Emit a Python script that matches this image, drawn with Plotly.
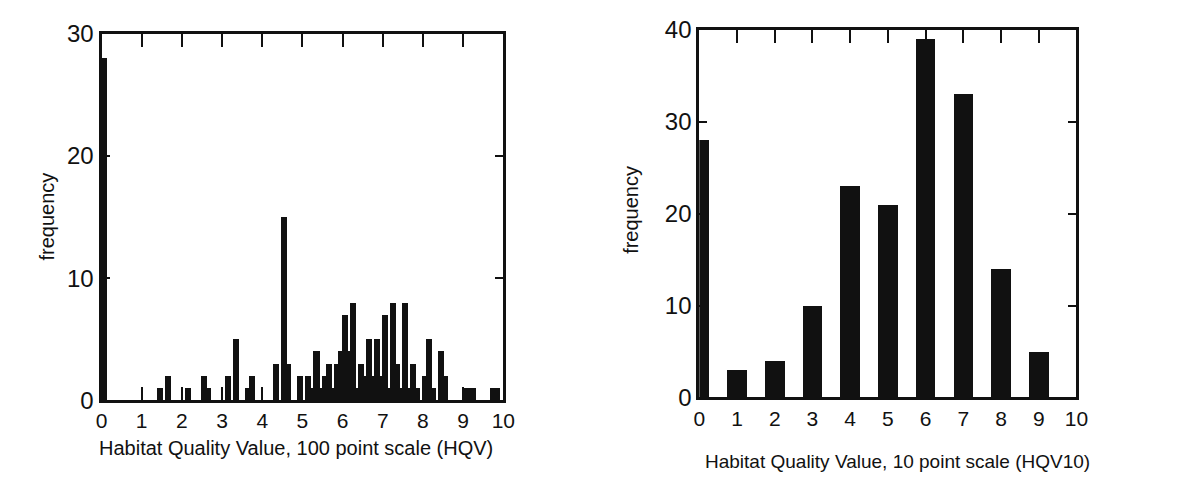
import plotly.graph_objects as go

# Left panel: 100 point scale (shown as HQV/10), one bar per 0.1 step
hqv100_values = [0.0, 1.4, 1.6, 2.1, 2.5, 2.6, 3.1, 3.3, 3.6, 3.7, 4.3, 4.5, 4.6, 4.9,
                 5.1, 5.2, 5.3, 5.4, 5.5, 5.6, 5.7, 5.8, 5.9, 6.0, 6.1, 6.2, 6.3, 6.4,
                 6.5, 6.6, 6.7, 6.8, 6.9, 7.0, 7.1, 7.2, 7.3, 7.4, 7.5, 7.6, 7.7, 7.8,
                 8.0, 8.1, 8.2, 8.4, 8.5, 9.0, 9.1, 9.2, 9.7, 9.8]
hqv100_freq = [28, 1, 2, 1, 2, 1, 2, 5, 1, 2, 3, 15, 3, 2,
               2, 1, 4, 1, 2, 3, 1, 3, 4, 7, 4, 8, 1, 3,
               2, 5, 2, 5, 2, 7, 1, 8, 3, 1, 8, 1, 3, 1,
               2, 5, 1, 4, 2, 1, 1, 1, 1, 1]

# Right panel: 10 point scale
hqv10_values = [0, 1, 2, 3, 4, 5, 6, 7, 8, 9]
hqv10_freq = [28, 3, 4, 10, 23, 21, 39, 33, 14, 5]

x_ticks = list(range(0, 11))
left_y_ticks = [0, 10, 20, 30]
right_y_ticks = [0, 10, 20, 30, 40]

W, H = 1185, 486
FONT = "Liberation Sans, Arial, Helvetica, sans-serif"
INK = "#111111"

fig = go.Figure()
fig.add_trace(go.Bar(x=hqv100_values, y=hqv100_freq, width=0.15, offset=-0.025,
                     marker=dict(color=INK, line=dict(width=0)),
                     xaxis="x", yaxis="y", showlegend=False))
fig.add_trace(go.Bar(x=hqv10_values, y=hqv10_freq, width=0.52,
                     marker=dict(color=INK, line=dict(width=0)),
                     xaxis="x2", yaxis="y2", showlegend=False))

def px_x(p):
    return p / W

def px_y(p):
    return 1 - p / H

def axis_style(size):
    return dict(showline=True, linecolor=INK, linewidth=3, mirror="ticks",
                ticks="inside", tickcolor=INK, tickwidth=2,
                showgrid=False, zeroline=False, fixedrange=True,
                tickfont=dict(family=FONT, size=size, color=INK))

fig.update_layout(
    width=W, height=H, autosize=False,
    margin=dict(l=0, r=0, t=0, b=0),
    paper_bgcolor="white", plot_bgcolor="white",
    bargap=0,
    xaxis=dict(domain=[px_x(97), px_x(505)], range=[0, 10], tickvals=x_ticks,
               ticklen=13, anchor="y", **axis_style(21)),
    yaxis=dict(domain=[px_y(409), px_y(21)], range=[0, 30], tickvals=left_y_ticks,
               ticklen=8, anchor="x", **axis_style(24)),
    xaxis2=dict(domain=[px_x(704), px_x(1087)], range=[0, 10], tickvals=x_ticks,
                ticklen=13, anchor="y2", **axis_style(21)),
    yaxis2=dict(domain=[px_y(406), px_y(17)], range=[0, 40], tickvals=right_y_ticks,
                ticklen=8, anchor="x2", **axis_style(24)),
)

def label(text, x, y, size, angle=0):
    fig.add_annotation(x=px_x(x), y=px_y(y), xref="paper", yref="paper",
                       xanchor="center", yanchor="middle",
                       text=text, textangle=angle, showarrow=False,
                       font=dict(family=FONT, size=size, color=INK))

label("frequency", 42, 214, 20, -90)
label("frequency", 634, 207, 20, -90)
label("Habitat Quality Value, 100 point scale (HQV)", 294, 460, 20)
label("Habitat Quality Value, 10 point scale (HQV10)", 905, 474, 19)

fig.write_html(
    "out.html",
    config={"displayModeBar": False, "staticPlot": True},
    post_script="document.body.style.margin='0';document.body.style.overflow='hidden';",
)
